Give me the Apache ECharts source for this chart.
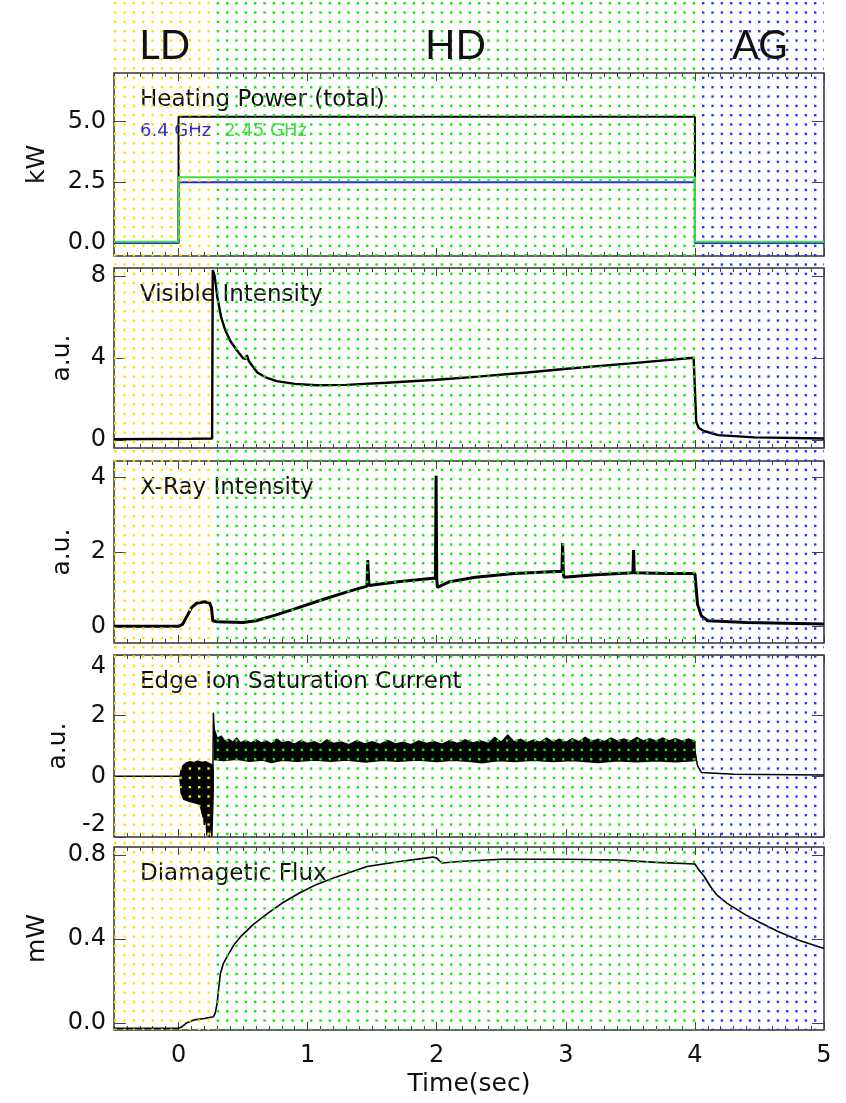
<!DOCTYPE html>
<html>
<head>
<meta charset="utf-8">
<script src="https://cdn.jsdelivr.net/npm/echarts@6/dist/echarts.min.js"></script>
<style>
  html, body { margin: 0; padding: 0; background: #ffffff; }
  #chart { width: 846px; height: 1103px; }
</style>
</head>
<body>
<div id="chart"></div>
<script>
// ---- discharge phases (time in seconds) ----
const phaseNames = ['LD', 'HD', 'AG'];
const phaseBounds = [[-0.5, 0.285], [0.285, 4.005], [4.005, 5.0]];

// ---- axis ticks ----
const timeTicks = [0, 1, 2, 3, 4, 5];
const yTicks = [[0, 2.5, 5.0], [0, 4, 8], [0, 2, 4], [-2, 0, 2, 4], [0, 0.4, 0.8]];
const yNames = ['kW', 'a.u.', 'a.u.', 'a.u.', 'mW'];
const panelTitles = ['Heating Power (total)', 'Visible Intensity', 'X-Ray Intensity',
                     'Edge Ion Saturation Current', 'Diamagetic Flux'];
const legendNames = ['6.4 GHz', '2.45 GHz'];

// ---- heating power (kW) ----
const powerTotal = [[-0.5, 0], [0, 0], [0, 5.2], [4.0, 5.2], [4.0, 0], [5, 0]];
const power64    = [[-0.5, 0], [0, 0], [0, 2.5], [4.0, 2.5], [4.0, 0], [5, 0]];
const power245   = [[-0.5, 0.05], [0, 0.05], [0, 2.7], [4.0, 2.7], [4.0, 0.05], [5, 0.05]];

// ---- visible intensity (a.u.) ----
const visible = [[-0.5, 0.05], [0.1, 0.07], [0.26, 0.08], [0.265, 8.3], [0.28, 8.0], [0.3, 7.0],
  [0.33, 6.0], [0.36, 5.4], [0.4, 4.85], [0.45, 4.4], [0.5, 4.0], [0.52, 3.95], [0.53, 4.15],
  [0.545, 3.85], [0.61, 3.3], [0.68, 3.05], [0.76, 2.88], [0.9, 2.75], [1.07, 2.68], [1.3, 2.7],
  [1.61, 2.8], [2.0, 2.95], [2.32, 3.1], [2.7, 3.3], [3.03, 3.5], [3.5, 3.75], [3.99, 4.02],
  [4.0, 4.0], [4.01, 0.9], [4.03, 0.6], [4.07, 0.45], [4.18, 0.25], [4.46, 0.14], [5.0, 0.08]];

// ---- x-ray intensity (a.u.) ----
const xray = [[-0.5, 0.0], [0.0, 0.0], [0.03, 0.05], [0.07, 0.3], [0.1, 0.5], [0.14, 0.62],
  [0.2, 0.66], [0.24, 0.63], [0.255, 0.5], [0.265, 0.15], [0.3, 0.12], [0.5, 0.1], [0.6, 0.15],
  [0.75, 0.3], [0.9, 0.47], [1.1, 0.7], [1.3, 0.92], [1.46, 1.08], [1.465, 1.78], [1.475, 1.1],
  [1.7, 1.2], [1.99, 1.3], [1.995, 4.05], [2.0, 1.3], [2.005, 1.05], [2.1, 1.2], [2.3, 1.32],
  [2.6, 1.42], [2.97, 1.48], [2.975, 2.24], [2.98, 1.48], [2.985, 1.32], [3.2, 1.38],
  [3.52, 1.44], [3.525, 2.05], [3.53, 1.44], [3.8, 1.42], [4.0, 1.42], [4.02, 0.6],
  [4.05, 0.28], [4.1, 0.15], [4.4, 0.1], [5.0, 0.06]];

// ---- edge ion saturation current (a.u.) ----
const edgeTrace = [[-0.5, 0], [0.01, 0], [0.265, -0.5], [0.27, 2.1], [0.28, 1.2], [0.3, 0.85],
  [4.0, 0.85], [4.02, 0.35], [4.05, 0.13], [4.3, 0.07], [5.0, 0.04]];
// fluctuation envelope during low-density phase
const edgeLdUpper = [[0.01, 0], [0.02, 0.2], [0.035, 0.35], [0.06, 0.44], [0.09, 0.48], [0.12, 0.45],
  [0.15, 0.5], [0.18, 0.46], [0.21, 0.48], [0.24, 0.42], [0.26, 0.38], [0.268, 0.2]];
const edgeLdLower = [[0.01, 0], [0.02, -0.55], [0.04, -0.75], [0.08, -0.82], [0.12, -0.86],
  [0.15, -0.9], [0.17, -1.0], [0.185, -1.25], [0.19, -1.0], [0.2, -1.6], [0.21, -1.15],
  [0.22, -1.95], [0.228, -1.3], [0.238, -2.0], [0.248, -1.4], [0.258, -1.98], [0.268, -0.6]];
// fluctuation envelope during high-density phase
const edgeHdUpper = [[0.28, 1.5], [0.3, 1.25], [0.33, 1.32], [0.36, 1.15], [0.39, 1.22], [0.42, 1.12],
  [0.45, 1.26], [0.48, 1.1], [0.52, 1.18], [0.56, 1.09], [0.6, 1.2], [0.64, 1.1], [0.68, 1.16],
  [0.72, 1.07], [0.76, 1.22], [0.8, 1.1], [0.85, 1.15], [0.9, 1.06], [0.95, 1.18], [1.0, 1.08],
  [1.05, 1.14], [1.1, 1.05], [1.15, 1.2], [1.2, 1.08], [1.26, 1.13], [1.32, 1.04], [1.38, 1.17],
  [1.44, 1.07], [1.5, 1.14], [1.56, 1.05], [1.62, 1.18], [1.68, 1.07], [1.74, 1.12], [1.8, 1.04],
  [1.86, 1.16], [1.92, 1.08], [1.98, 1.14], [2.04, 1.06], [2.1, 1.17], [2.16, 1.08], [2.22, 1.2],
  [2.28, 1.1], [2.34, 1.16], [2.4, 1.08], [2.45, 1.28], [2.5, 1.12], [2.55, 1.36], [2.6, 1.13],
  [2.65, 1.22], [2.7, 1.11], [2.75, 1.2], [2.8, 1.12], [2.85, 1.26], [2.9, 1.13], [2.95, 1.22],
  [3.0, 1.12], [3.05, 1.24], [3.1, 1.14], [3.15, 1.28], [3.2, 1.15], [3.25, 1.22], [3.3, 1.14],
  [3.35, 1.26], [3.4, 1.16], [3.45, 1.23], [3.5, 1.15], [3.55, 1.28], [3.6, 1.17], [3.65, 1.24],
  [3.7, 1.16], [3.75, 1.26], [3.8, 1.17], [3.85, 1.24], [3.9, 1.16], [3.95, 1.23], [4.0, 1.15]];
const edgeHdLower = [[0.28, 0.55], [0.35, 0.52], [0.45, 0.56], [0.55, 0.5], [0.65, 0.54], [0.72, 0.46],
  [0.8, 0.53], [0.92, 0.5], [1.05, 0.54], [1.18, 0.5], [1.3, 0.54], [1.45, 0.47], [1.58, 0.53],
  [1.7, 0.5], [1.85, 0.54], [2.0, 0.49], [2.12, 0.53], [2.25, 0.5], [2.35, 0.45], [2.48, 0.52],
  [2.6, 0.49], [2.75, 0.53], [2.9, 0.49], [3.05, 0.52], [3.18, 0.48], [3.25, 0.46], [3.4, 0.51],
  [3.55, 0.48], [3.7, 0.51], [3.85, 0.48], [4.0, 0.52]];

// ---- diamagnetic flux (mW) ----
const flux = [[-0.5, -0.025], [0.0, -0.025], [0.02, -0.02], [0.06, 0.0], [0.12, 0.015], [0.2, 0.022],
  [0.27, 0.03], [0.285, 0.05], [0.299, 0.095], [0.31, 0.16], [0.324, 0.235], [0.345, 0.28],
  [0.376, 0.316], [0.427, 0.37], [0.479, 0.41], [0.58, 0.47], [0.685, 0.52], [0.8, 0.57],
  [0.94, 0.62], [1.07, 0.66], [1.2, 0.69], [1.46, 0.745], [1.7, 0.768], [1.97, 0.79], [2.0, 0.785],
  [2.04, 0.762], [2.2, 0.77], [2.5, 0.78], [3.0, 0.78], [3.4, 0.776], [3.7, 0.765], [4.0, 0.757],
  [4.03, 0.73], [4.07, 0.7], [4.12, 0.65], [4.17, 0.61], [4.25, 0.57], [4.39, 0.516], [4.5, 0.48],
  [4.64, 0.437], [4.8, 0.395], [5.0, 0.355]];

// ---- layout & style ----
const FONT = 'DejaVu Sans';
const phaseColors = ['#ffe400', '#10e610', '#1f3cff'];
const BLUE = '#2a2ad6', GREEN = '#44dd44';
const panels = [
  { top: 73,  height: 183, min: -0.54,  max: 7.0,   nameGap: 64, decimals: 1 },
  { top: 268, height: 180, min: -0.38,  max: 8.4,   nameGap: 39, decimals: 0 },
  { top: 461, height: 182, min: -0.45,  max: 4.45,  nameGap: 39, decimals: 0 },
  { top: 655, height: 182, min: -2,     max: 4,     nameGap: 39, decimals: 0 },
  { top: 847, height: 183, min: -0.033, max: 0.838, nameGap: 64, decimals: 1 }
];

const grids = [], xAxes = [], yAxes = [], titles = [];
const tickStyle = { color: '#444', width: 1 };
const noLine = { show: false, onZero: false };
panels.forEach((p, g) => {
  const last = g === panels.length - 1;
  grids.push({ left: 114, right: 22, top: p.top, height: p.height, show: true,
    borderColor: '#333', borderWidth: 1.5, backgroundColor: 'transparent' });
  const base = { type: 'value', gridIndex: g, min: -0.5, max: 5,
    splitLine: { show: false }, axisLine: noLine };
  // bottom major / minor, top major / minor
  xAxes.push(Object.assign({}, base, {
    position: 'bottom',
    axisTick: { inside: true, length: 8, customValues: timeTicks, lineStyle: tickStyle },
    axisLabel: { show: last, customValues: timeTicks, fontFamily: FONT, fontSize: 24,
      color: '#111', margin: 14 },
    name: last ? 'Time(sec)' : '', nameLocation: 'middle', nameGap: 42,
    nameTextStyle: { fontFamily: FONT, fontSize: 25, color: '#111' }
  }));
  xAxes.push(Object.assign({}, base, { position: 'bottom', interval: 0.1,
    axisTick: { inside: true, length: 4, lineStyle: tickStyle }, axisLabel: { show: false } }));
  xAxes.push(Object.assign({}, base, { position: 'top',
    axisTick: { inside: true, length: 8, customValues: timeTicks, lineStyle: tickStyle },
    axisLabel: { show: false } }));
  xAxes.push(Object.assign({}, base, { position: 'top', interval: 0.1,
    axisTick: { inside: true, length: 4, lineStyle: tickStyle }, axisLabel: { show: false } }));

  const ybase = { type: 'value', gridIndex: g, min: p.min, max: p.max,
    splitLine: { show: false }, axisLine: noLine };
  yAxes.push(Object.assign({}, ybase, {
    position: 'left',
    axisTick: { inside: true, length: 12, customValues: yTicks[g], lineStyle: tickStyle },
    axisLabel: { customValues: yTicks[g], fontFamily: FONT, fontSize: 24, color: '#111', margin: 8,
      formatter: v => v.toFixed(p.decimals),
      verticalAlignMaxLabel: g === 3 ? 'top' : null,
      verticalAlignMinLabel: g === 3 ? 'bottom' : null },
    name: yNames[g], nameLocation: 'middle', nameGap: p.nameGap,
    nameTextStyle: { fontFamily: FONT, fontSize: 25, color: '#111' }
  }));
  yAxes.push(Object.assign({}, ybase, {
    position: 'right',
    axisTick: { inside: true, length: 12, customValues: yTicks[g], lineStyle: tickStyle },
    axisLabel: { show: false }
  }));
  titles.push({ text: panelTitles[g], left: 140, top: p.top + 16, padding: 0,
    textStyle: { fontFamily: FONT, fontSize: 23, fontWeight: 'normal', color: '#111' } });
});

function line(g, data, color, width, name) {
  return { type: 'line', name: name, xAxisIndex: 4 * g, yAxisIndex: 2 * g, data: data,
    symbol: 'none', showSymbol: false, clip: true, z: 3,
    lineStyle: { color: color, width: width }, itemStyle: { color: color } };
}
function band(g, upper, lower) {
  return { type: 'custom', xAxisIndex: 4 * g, yAxisIndex: 2 * g, clip: true, silent: true, z: 4,
    data: [[upper[0][0], upper[0][1]]],
    renderItem: (params, api) => {
      const pts = upper.map(q => api.coord(q))
        .concat(lower.slice().reverse().map(q => api.coord(q)));
      return { type: 'polygon', shape: { points: pts },
        style: { fill: '#000', stroke: '#000', lineWidth: 1.5 } };
    } };
}

const series = [
  line(0, powerTotal, '#000', 2, 'Heating Power (total)'),
  line(0, power64, BLUE, 2, legendNames[0]),
  line(0, power245, GREEN, 2, legendNames[1]),
  line(1, visible, '#000', 2.4),
  line(2, xray, '#000', 3),
  line(3, edgeTrace, '#000', 1.5),
  band(3, edgeLdUpper, edgeLdLower),
  band(3, edgeHdUpper, edgeHdLower),
  line(4, flux, '#000', 1.6)
];

const chart = echarts.init(document.getElementById('chart'), null, { renderer: 'canvas' });
chart.setOption({
  animation: false,
  backgroundColor: '#ffffff',
  title: titles,
  legend: {
    data: [{ name: legendNames[0], textStyle: { color: BLUE } },
           { name: legendNames[1], textStyle: { color: GREEN } }],
    left: 135, top: 122, icon: 'none', itemWidth: 0, itemGap: 8, padding: 0,
    selectedMode: false, textStyle: { fontFamily: FONT, fontSize: 18 }
  },
  grid: grids,
  xAxis: xAxes,
  yAxis: yAxes,
  series: series
});

// dotted overlay marking each discharge phase
function dotTile(color) {
  const c = document.createElement('canvas');
  c.width = 28; c.height = 28;
  const ctx = c.getContext('2d');
  ctx.fillStyle = color;
  [2, 11.33, 20.67].forEach(ox => [2, 11.33, 20.67].forEach(oy => ctx.fillRect(ox, oy, 2.4, 2.4)));
  return c;
}
const bottomY = chart.convertToPixel({ gridIndex: panels.length - 1 }, [0, panels[panels.length - 1].min])[1];
const graphics = [];
phaseBounds.forEach((b, i) => {
  const x0 = chart.convertToPixel({ xAxisIndex: 0 }, b[0]);
  const x1 = chart.convertToPixel({ xAxisIndex: 0 }, b[1]);
  graphics.push({ type: 'rect', z: 100, silent: true,
    shape: { x: x0, y: 0, width: x1 - x0, height: bottomY },
    style: { fill: { image: dotTile(phaseColors[i]), repeat: 'repeat' } } });
  graphics.push({ type: 'text', z: 101, silent: true, x: (x0 + x1) / 2, y: 46,
    style: { text: phaseNames[i], font: '40px Lato', fill: '#111',
      textAlign: 'center', textVerticalAlign: 'middle' } });
});
chart.setOption({ graphic: graphics });
</script>
</body>
</html>
